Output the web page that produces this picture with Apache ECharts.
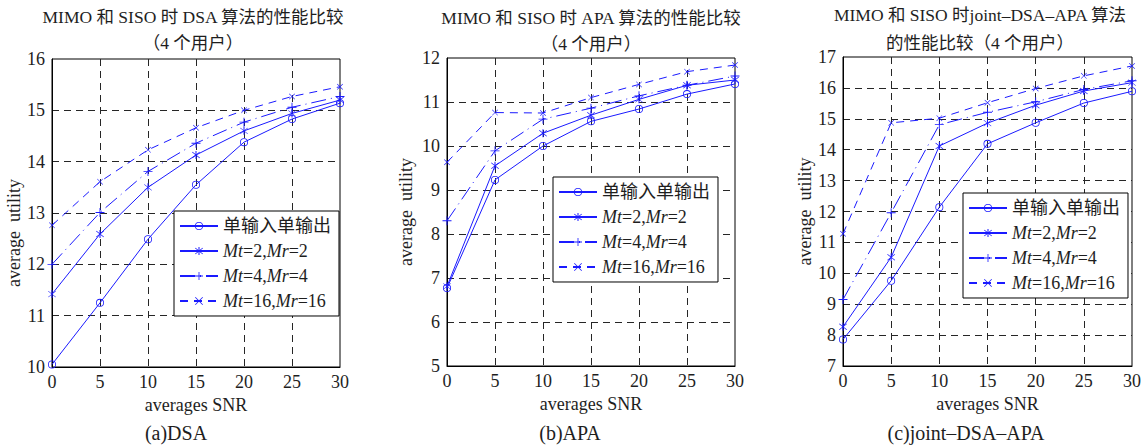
<!DOCTYPE html>
<html><head><meta charset="utf-8">
<script src="https://cdn.jsdelivr.net/npm/echarts@6/dist/echarts.min.js"></script>
<style>html,body{margin:0;padding:0;background:#fff}#c{width:1146px;height:445px}</style>
</head><body><div id="c"></div>
<script>
// ---- data ----
const snr = [0, 5, 10, 15, 20, 25, 30];
const seriesNames = ['单输入单输出', 'Mt=2,Mr=2', 'Mt=4,Mr=4', 'Mt=16,Mr=16'];
// (a) DSA
const dsaSiso = [10.05, 11.25, 12.49, 13.55, 14.38, 14.83, 15.14];
const dsaMt2  = [11.42, 12.59, 13.50, 14.13, 14.60, 14.94, 15.20];
const dsaMt4  = [12.00, 13.01, 13.81, 14.36, 14.77, 15.06, 15.27];
const dsaMt16 = [12.76, 13.61, 14.23, 14.66, 15.00, 15.27, 15.46];
// (b) APA
const apaSiso = [6.77, 9.23, 10.00, 10.56, 10.84, 11.18, 11.41];
const apaMt2  = [6.81, 9.55, 10.29, 10.70, 11.06, 11.38, 11.50];
const apaMt4  = [8.30, 9.89, 10.61, 10.86, 11.14, 11.38, 11.59];
const apaMt16 = [9.63, 10.76, 10.75, 11.10, 11.40, 11.69, 11.84];
// (c) joint-DSA-APA
const jointSiso = [7.86, 9.76, 12.14, 14.19, 14.87, 15.51, 15.89];
const jointMt2  = [8.27, 10.52, 14.12, 14.86, 15.44, 15.90, 16.17];
const jointMt4  = [9.15, 11.96, 14.81, 15.21, 15.55, 15.95, 16.23];
const jointMt16 = [11.28, 14.87, 15.02, 15.52, 15.98, 16.39, 16.71];
// texts
const titlesL1 = ['MIMO 和 SISO 时 DSA 算法的性能比较', 'MIMO 和 SISO 时 APA 算法的性能比较', 'MIMO 和 SISO 时joint–DSA–APA 算法'];
const titlesL2 = ['（4 个用户）', '（4 个用户）', '的性能比较（4 个用户）'];
const captions = ['(a)DSA', '(b)APA', '(c)joint–DSA–APA'];
const xName = 'averages SNR';
const yName = 'average  utility';
const yRanges = [[10, 16], [5, 12], [7, 17]];

// ---- styles ----
const FONT = "'Liberation Serif','Noto Sans CJK SC',serif";
const BLUE = '#1a1aff';
const TXT = '#1e1e1e';
const RING = 'path://M0,5A5,5,0,1,0,10,5A5,5,0,1,0,0,5Z M1,5A4,4,0,1,1,9,5A4,4,0,1,1,1,5Z';
const PLUS = 'path://M4.5,0H5.5V10H4.5Z M0,4.5H10V5.5H0Z';
const CROSS = 'path://M0.7,0L10,9.3L9.3,10L0,0.7Z M9.3,0L10,0.7L0.7,10L0,9.3Z';
const STAR = 'path://M4.5,0H5.5V10H4.5Z M1.5,1.0L9.0,8.5L8.5,9.0L1.0,1.5Z M8.5,1.0L9.0,1.5L1.5,9.0L1.0,8.5Z';
const markStyles = [
  { symbol: RING, symbolSize: 8, dash: 'solid' },
  { symbol: STAR, symbolSize: 8, dash: 'solid' },
  { symbol: PLUS, symbolSize: 9, dash: [15, 5, 1, 5] },
  { symbol: CROSS, symbolSize: 6, dash: [8, 6] }
];
const panelData = [
  [dsaSiso, dsaMt2, dsaMt4, dsaMt16],
  [apaSiso, apaMt2, apaMt4, apaMt16],
  [jointSiso, jointMt2, jointMt4, jointMt16]
];
const gridPos = [
  { left: 52, top: 59, width: 288, height: 308 },
  { left: 447, top: 58, width: 288, height: 308 },
  { left: 843, top: 57, width: 289, height: 309 }
];
const legendPos = [{ left: 174, top: 211 }, { left: 553, top: 177 }, { left: 963, top: 193 }];
const titleX = [193, 591, 980];
const titleY1 = [17, 18, 15];
const titleY2 = [43, 44, 43];
const captionX = [176, 570, 966];
const yNameGap = [29, 32, 29];
const yNamePad = [[0, 40, 0, 0], 0, 0];

const grids = [], xAxes = [], yAxes = [], series = [], legends = [], graphics = [];
for (let p = 0; p < 3; p++) {
  grids.push(Object.assign({ show: true, borderColor: '#000', borderWidth: 1, backgroundColor: 'transparent', containLabel: false }, gridPos[p]));
  xAxes.push({
    type: 'value', gridIndex: p, min: 0, max: 30, interval: 5,
    name: xName, nameLocation: 'middle', nameGap: 27,
    nameTextStyle: { fontFamily: FONT, fontSize: 18, color: TXT },
    axisLine: { show: true, lineStyle: { color: '#000', width: 1 } },
    axisTick: { show: false },
    axisLabel: { fontFamily: FONT, fontSize: 18, color: TXT, margin: 6 },
    splitLine: { show: true, showMinLine: false, showMaxLine: false, lineStyle: { color: '#262626', width: 1, type: [7, 5] } }
  });
  yAxes.push({
    type: 'value', gridIndex: p, min: yRanges[p][0], max: yRanges[p][1], interval: 1,
    name: yName, nameLocation: 'middle', nameGap: yNameGap[p], nameRotate: 90,
    nameTextStyle: { fontFamily: FONT, fontSize: 18, color: TXT, padding: yNamePad[p] },
    axisLine: { show: true, lineStyle: { color: '#000', width: 1 } },
    axisTick: { show: false },
    axisLabel: { fontFamily: FONT, fontSize: 18, color: TXT, margin: 7 },
    splitLine: { show: true, showMinLine: false, showMaxLine: false, lineStyle: { color: '#262626', width: 1, type: [7, 5] } }
  });
  for (let s = 0; s < 4; s++) {
    const st = markStyles[s];
    series.push({
      type: 'line', name: seriesNames[s], xAxisIndex: p, yAxisIndex: p,
      data: snr.map((x, i) => [x, panelData[p][s][i]]),
      symbol: st.symbol, symbolSize: st.symbolSize, showSymbol: true,
      lineStyle: { color: BLUE, width: 1, type: st.dash },
      itemStyle: { color: BLUE, borderWidth: 0 },
      clip: false, z: 3
    });
  }
  legends.push({
    orient: 'vertical', left: legendPos[p].left, top: legendPos[p].top,
    data: seriesNames, selectedMode: false,
    itemWidth: 38, itemHeight: 10, itemGap: 7,
    padding: [6, 8, 6, 5],
    backgroundColor: '#fff', borderColor: '#000', borderWidth: 1, borderRadius: 0,
    formatter: n => n.replace(/M(t|r)/g, '{i|M$1}'),
    textStyle: { fontFamily: FONT, fontSize: 18, color: TXT,
      rich: { i: { fontFamily: FONT, fontSize: 18, fontStyle: 'italic', color: TXT } } }
  });
  const tStyle = { font: '17.5px ' + FONT, fill: TXT, align: 'center', verticalAlign: 'middle', textAlign: 'center', textVerticalAlign: 'middle' };
  graphics.push({ type: 'text', x: titleX[p], y: titleY1[p], style: Object.assign({ text: titlesL1[p] }, tStyle) });
  graphics.push({ type: 'text', x: titleX[p], y: titleY2[p], style: Object.assign({ text: titlesL2[p] }, tStyle) });
  graphics.push({ type: 'text', x: captionX[p], y: 433, style: Object.assign({ text: captions[p] }, tStyle, { font: '20px ' + FONT }) });
}

const chart = echarts.init(document.getElementById('c'), null, { renderer: 'svg', width: 1146, height: 445 });
chart.setOption({
  animation: false,
  backgroundColor: '#fff',
  grid: grids, xAxis: xAxes, yAxis: yAxes, series: series, legend: legends, graphic: graphics
});
</script>
</body></html>
